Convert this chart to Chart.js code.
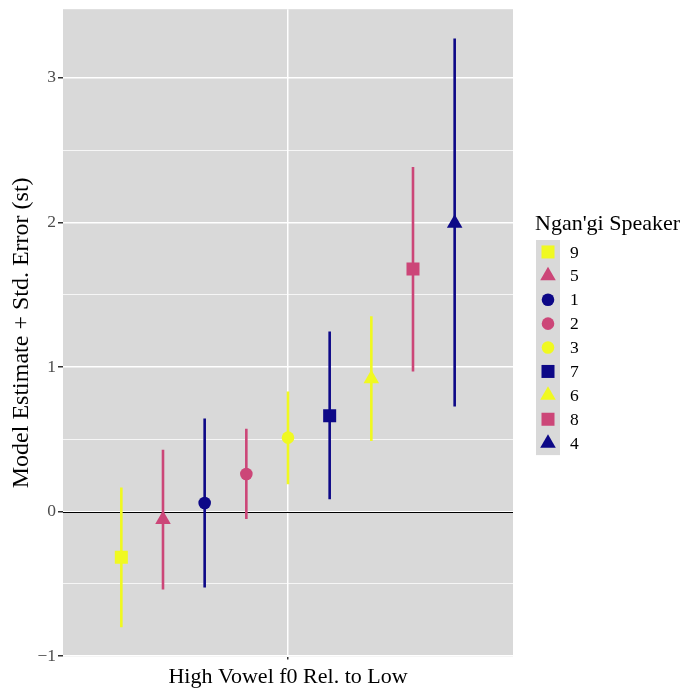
<!DOCTYPE html>
<html>
<head>
<meta charset="utf-8">
<script src="https://cdn.jsdelivr.net/npm/chart.js@4"></script>
<style>
  body { margin: 0; background: #fff; }
</style>
</head>
<body>
<canvas id="chart" width="681" height="690"></canvas>
<script>
// speakers in plotting order (sorted by estimate)
var speakers = ['9', '5', '1', '2', '3', '7', '6', '8', '4'];
var estimates = [-0.316, -0.055, 0.059, 0.26, 0.511, 0.663, 0.918, 1.678, 1.995];
var lows = [-0.80, -0.539, -0.525, -0.051, 0.189, 0.085, 0.488, 0.969, 0.727];
var highs = [0.166, 0.428, 0.644, 0.573, 0.83, 1.245, 1.351, 2.383, 3.273];
var yTicks = [-1, 0, 1, 2, 3];

// styling per speaker (plasma palette, shapes)
var navy = '#0D0887', pink = '#CC4678', yellow = '#F0F921';
var speakerColor = [yellow, pink, navy, pink, yellow, navy, yellow, pink, navy];
var speakerShape = ['rect', 'triangle', 'circle', 'circle', 'circle', 'rect', 'triangle', 'rect', 'triangle'];
var shapeRadius = { rect: 9.2, triangle: 9, circle: 6.3 };

var serif = "'Liberation Serif', 'DejaVu Serif', serif";

// dodge positions around the single category (x = 1)
function dodgeX(i) { return 1 + (i - (speakers.length - 1) / 2) / speakers.length; }

var datasets = [];
speakers.forEach(function(s, i) {
    datasets.push({
        label: s + ' range',
        data: [{ x: dodgeX(i), y: lows[i] }, { x: dodgeX(i), y: highs[i] }],
        showLine: true,
        borderColor: speakerColor[i],
        borderWidth: 2.6,
        borderCapStyle: 'butt',
        pointRadius: 0,
        order: 1
    });
    datasets.push({
        label: s,
        data: [{ x: dodgeX(i), y: estimates[i] }],
        pointStyle: speakerShape[i],
        pointRadius: shapeRadius[speakerShape[i]],
        backgroundColor: speakerColor[i],
        borderColor: speakerColor[i],
        borderWidth: 0,
        order: 0
    });
});

var panelBg = {
    id: 'panelBg',
    beforeDraw: function(chart) {
        var a = chart.chartArea, ctx = chart.ctx;
        ctx.save();
        ctx.fillStyle = '#D9D9D9';
        ctx.fillRect(a.left, a.top, a.right - a.left, a.bottom - a.top);
        ctx.restore();
    }
};

var zeroLine = {
    id: 'zeroLine',
    beforeDatasetsDraw: function(chart) {
        var a = chart.chartArea, ctx = chart.ctx;
        var y = Math.round(chart.scales.y.getPixelForValue(0)) + 0.5;
        ctx.save();
        ctx.strokeStyle = '#000';
        ctx.lineWidth = 1.2;
        ctx.beginPath();
        ctx.moveTo(a.left, y);
        ctx.lineTo(a.right, y);
        ctx.stroke();
        ctx.restore();
    }
};

var legendBox = {
    id: 'legendBox',
    afterDraw: function(chart) {
        var ctx = chart.ctx;
        var left = 536, top = 240, keyW = 24, keyH = 23.9;
        ctx.save();
        ctx.fillStyle = '#000';
        ctx.font = '22px ' + serif;
        ctx.textBaseline = 'alphabetic';
        ctx.textAlign = 'left';
        ctx.fillText("Ngan'gi Speaker", 535, 230);
        ctx.fillStyle = '#D9D9D9';
        ctx.fillRect(left, top, keyW, keyH * speakers.length);
        ctx.font = '17.5px ' + serif;
        ctx.textBaseline = 'middle';
        speakers.forEach(function(s, i) {
            var cy = top + keyH * (i + 0.5);
            ctx.fillStyle = speakerColor[i];
            ctx.strokeStyle = speakerColor[i];
            Chart.helpers.drawPoint(ctx, {
                pointStyle: speakerShape[i],
                radius: shapeRadius[speakerShape[i]],
                borderWidth: 0
            }, left + keyW / 2, cy);
            ctx.fillStyle = '#000';
            ctx.fillText(s, 570, cy + 1);
        });
        ctx.restore();
    }
};

new Chart(document.getElementById('chart'), {
    type: 'scatter',
    data: { datasets: datasets },
    options: {
        responsive: false,
        animation: false,
        layout: { padding: { left: 0, top: 8, right: 168, bottom: 0 } },
        plugins: {
            legend: { display: false },
            tooltip: { enabled: false }
        },
        scales: {
            x: {
                type: 'linear',
                min: 0.4,
                max: 1.6,
                afterBuildTicks: function(scale) { scale.ticks = [{ value: 1 }]; },
                afterFit: function(scale) {
                    scale.height = 33.5;
                    scale.paddingLeft = 0;
                    scale.paddingRight = 0;
                },
                border: { display: false },
                grid: {
                    color: '#FFFFFF',
                    lineWidth: 1.5,
                    tickLength: 3,
                    tickColor: '#333333'
                },
                ticks: { display: false },
                title: {
                    display: true,
                    text: 'High Vowel f0 Rel. to Low',
                    color: '#000',
                    font: { family: serif, size: 22 },
                    padding: { top: 0, bottom: 0 }
                }
            },
            y: {
                min: -1.003,
                max: 3.475,
                afterBuildTicks: function(scale) {
                    var t = [];
                    for (var v = -1; v <= 3.25; v += 0.5) t.push({ value: v });
                    scale.ticks = t;
                },
                afterFit: function(scale) {
                    scale.width = 63;
                    scale.paddingTop = 0;
                    scale.paddingBottom = 0;
                },
                border: { display: false },
                grid: {
                    color: '#FFFFFF',
                    lineWidth: function(c) {
                        return yTicks.indexOf(c.tick.value) >= 0 ? 1.5 : 0.75;
                    },
                    tickLength: 5,
                    tickColor: function(c) {
                        return yTicks.indexOf(c.tick.value) >= 0 ? '#333333' : 'rgba(0,0,0,0)';
                    }
                },
                ticks: {
                    color: '#4D4D4D',
                    font: { family: serif, size: 17.5 },
                    padding: 2,
                    callback: function(v) {
                        if (yTicks.indexOf(v) < 0) return '';
                        return v < 0 ? '\u2212' + Math.abs(v) : String(v);
                    }
                },
                title: {
                    display: true,
                    text: 'Model Estimate + Std. Error (st)',
                    color: '#000',
                    font: { family: serif, size: 24 },
                    padding: { top: 7, bottom: 0 }
                }
            }
        }
    },
    plugins: [panelBg, zeroLine, legendBox]
});
</script>
</body>
</html>
